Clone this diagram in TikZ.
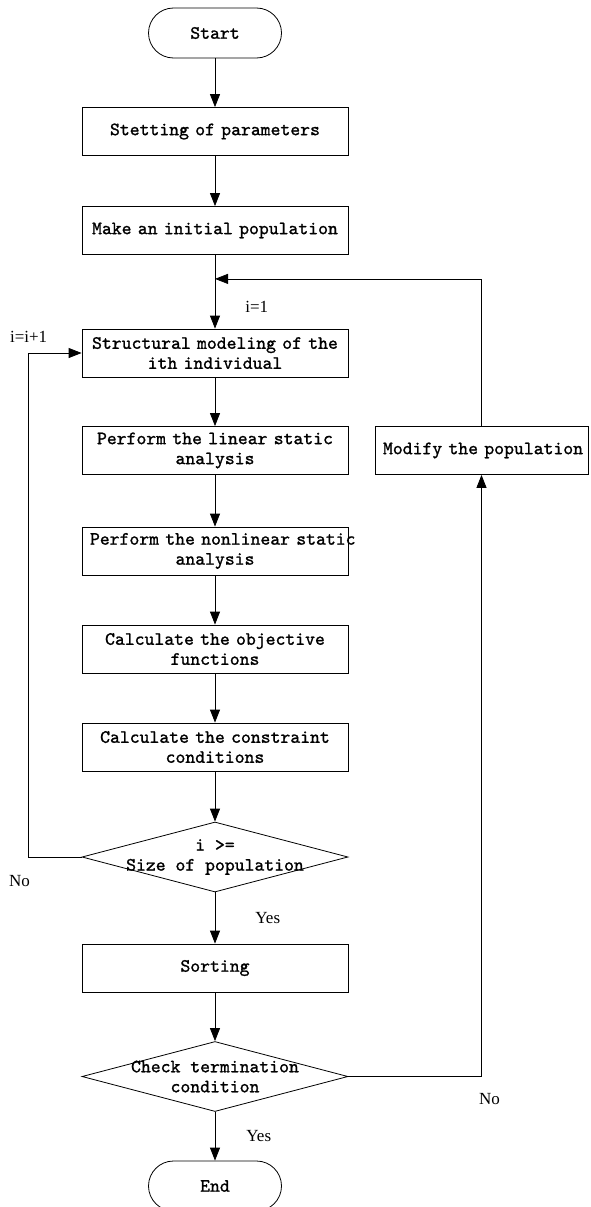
\documentclass[tikz,border=0pt]{standalone}
\usepackage{fontspec}
\setmainfont{Liberation Serif}
\newfontfamily\boxfont{lmmono10-regular.otf}[FakeBold=1.2]
\usetikzlibrary{positioning,arrows.meta,shapes.geometric}

\begin{document}
\begin{tikzpicture}[->,>={Triangle[length=13pt,width=10pt]},node distance=98pt,
  line width=0.8pt,
  block/.style={rectangle,draw,text width=250pt,inner xsep=8pt,inner ysep=0pt,
    minimum height=48pt,align=center,font=\boxfont\fontsize{18.8}{20}\selectfont},
  term/.style={rectangle,draw,rounded corners=25pt,minimum width=133pt,minimum height=50pt,
    font=\boxfont\fontsize{18.8}{20}\selectfont},
  decision/.style={diamond,draw,minimum width=266pt,minimum height=70pt,inner sep=0pt},
  dtext/.style={align=center,font=\boxfont\fontsize{18.8}{20}\selectfont},
  cond/.style={inner sep=0pt,font=\fontsize{17}{19}\selectfont}]

  \useasboundingbox (0,0) rectangle (590pt,-1207pt);

  \node[term] (start) at (215pt,-33pt) {Start};
  \node[block] (set) [below of=start,node distance=98.5pt] {Stetting of parameters};
  \node[block] (make) [below of=set,node distance=99pt] {\mbox{Make an initial population}};
  \node[block] (struc) [below of=make,node distance=122.5pt] {\mbox{Structural modeling of the}\\ith individual};
  \node[block] (lin) [below of=struc,node distance=97.5pt] {Perform the linear static\\analysis};
  \node[block] (nonlin) [below of=lin,node distance=100.5pt] {\mbox{Perform the nonlinear static}\\analysis};
  \node[block] (obj) [below of=nonlin] {Calculate the objective\\functions};
  \node[block] (con) [below of=obj] {Calculate the constraint\\conditions};
  \node[decision] (size) [below of=con,node distance=110pt,
    label={[dtext]center:{i >=\\Size of population}}] {};
  \node[block] (sort) [below of=size,node distance=111pt] {Sorting};
  \node[decision] (check) [below of=sort,node distance=108.5pt,
    label={[dtext]center:{Check termination\\condition}}] {};
  \node[term] (stop) [below of=check,node distance=109.5pt] {End};

  \node[block,text width=197pt] (mod) [right of=lin,node distance=266.5pt] {\mbox{Modify the population}};

  \coordinate (join) at ([yshift=-24pt]make.south);
  \coordinate (back) at ([xshift=-53pt]size.west);

  \path
    (start) edge (set)
    (set) edge (make)
    (make) edge node[cond,pos=0.7,right=30pt] {i=1} (struc)
    (struc) edge (lin)
    (lin) edge (nonlin)
    (nonlin) edge (obj)
    (obj) edge (con)
    (con) edge (size)
    (size) edge node[cond,right=40pt] {Yes} (sort)
    (sort) edge (check)
    (check) edge node[cond,right=31pt] {Yes} (stop);

  \draw (size.west) -- (back) node[cond,below=18pt,xshift=-9pt] {No}
    |- node[cond,pos=0.5,above=10pt] {i=i+1} (struc);
  \draw (check) -| node[cond,pos=0.5,below=16pt,xshift=8pt] {No} (mod);
  \draw (mod) |- (join);
\end{tikzpicture}
\end{document}
